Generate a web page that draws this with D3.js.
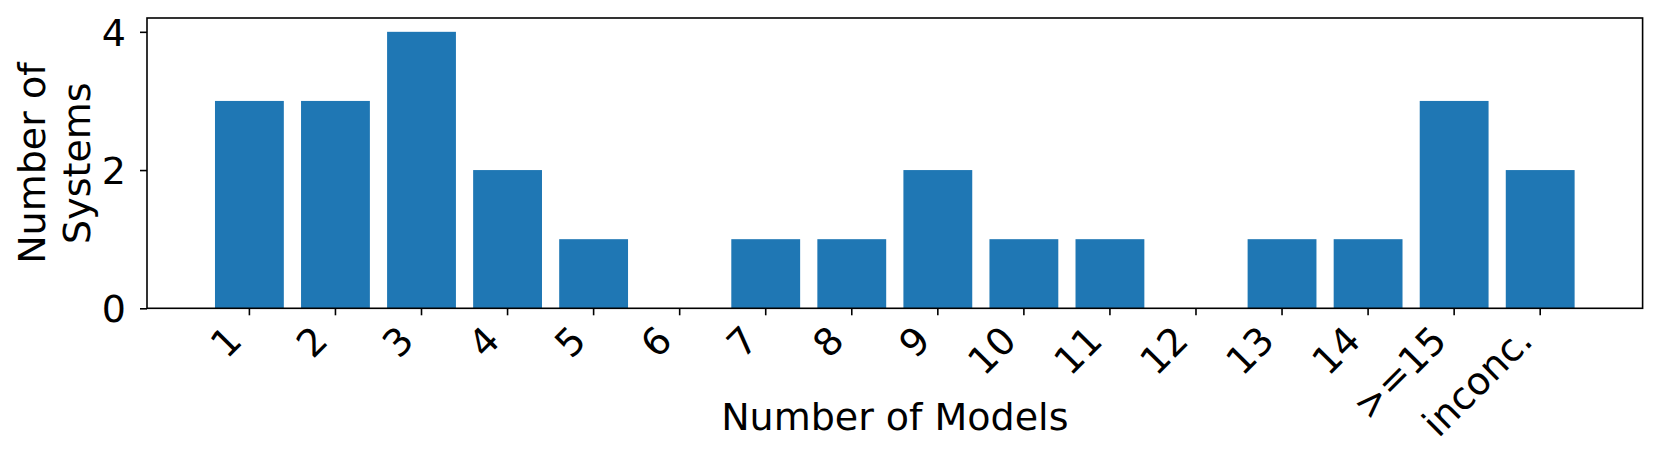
<!DOCTYPE html>
<html>
<head>
<meta charset="utf-8">
<script src="https://cdn.jsdelivr.net/npm/d3@7"></script>
<style>
  body { margin: 0; background: #fff; }
  text { font-family: "DejaVu Sans", sans-serif; fill: #000; }
</style>
</head>
<body>
<svg width="1660" height="465"></svg>
<script>
// categories on the x axis and the count for each
var categories = ["1", "2", "3", "4", "5", "6", "7", "8", "9", "10", "11", "12", "13", "14", ">=15", "inconc."];
var counts = [3, 3, 4, 2, 1, 0, 1, 1, 2, 1, 1, 0, 1, 1, 3, 2];
var yTicks = [0, 2, 4];

var dataset = categories.map(function (c, i) {
    return { cat: c, n: counts[i] };
});

var svg = d3.select("svg");
// plot area edges (px)
var plotLeft = 147, plotRight = 1642.6, plotTop = 18, plotBottom = 308.3;
var fontSize = 38;

var xScale = d3
    .scaleBand()
    .domain(categories)
    .range([plotLeft, plotRight])
    .paddingInner(0.2)
    .paddingOuter(0.79);
var yScale = d3
    .scaleLinear()
    .domain([0, 4.2])
    .range([plotBottom, plotTop]);

// bars
svg.append("g")
    .selectAll("rect")
    .data(dataset)
    .enter()
    .append("rect")
    .attr("x", (d) => xScale(d.cat))
    .attr("y", (d) => yScale(d.n))
    .attr("width", xScale.bandwidth())
    .attr("height", (d) => plotBottom - yScale(d.n))
    .style("fill", "#1f77b4");

// x axis ticks + rotated labels (right edge at tick, top under the tick)
var xAxis = svg.append("g")
    .attr("transform", "translate(0," + plotBottom + ")")
    .call(d3.axisBottom(xScale).tickSize(7).tickPadding(7).tickSizeOuter(0));
xAxis.select(".domain").remove();
xAxis.selectAll("line").attr("stroke", "#000").attr("stroke-width", 1.6);
xAxis.selectAll("text")
    .style("font-size", fontSize + "px")
    .attr("text-anchor", "end")
    .attr("dy", null)
    .attr("y", null)
    .attr("transform", function () {
        var a = 0.76 * fontSize, dsc = 0.208 * fontSize;
        return "translate(" + (-0.707 * dsc) + "," + (14 + 0.707 * a) + ") rotate(-45)";
    });

// y axis
var yAxis = svg.append("g")
    .attr("transform", "translate(" + plotLeft + ",0)")
    .call(d3.axisLeft(yScale).tickValues(yTicks).tickFormat(d3.format("d"))
        .tickSize(7).tickPadding(14).tickSizeOuter(0));
yAxis.select(".domain").remove();
yAxis.selectAll("line").attr("stroke", "#000").attr("stroke-width", 1.6);
yAxis.selectAll("text")
    .style("font-size", fontSize + "px")
    .attr("dy", "0.36em");

// frame
svg.append("rect")
    .attr("x", plotLeft)
    .attr("y", plotTop)
    .attr("width", plotRight - plotLeft)
    .attr("height", plotBottom - plotTop)
    .attr("fill", "none")
    .attr("stroke", "#000")
    .attr("stroke-width", 1.6);

// axis labels
svg.append("text")
    .attr("x", (plotLeft + plotRight) / 2)
    .attr("y", 430)
    .attr("text-anchor", "middle")
    .style("font-size", "38px")
    .text("Number of Models");

var yl = svg.append("text")
    .attr("transform", "translate(45," + (plotTop + plotBottom) / 2 + ") rotate(-90)")
    .attr("text-anchor", "middle")
    .style("font-size", "38px");
yl.append("tspan").attr("x", 0).attr("dy", 0).text("Number of");
yl.append("tspan").attr("x", 0).attr("dy", "1.18em").text("Systems");
</script>
</body>
</html>
